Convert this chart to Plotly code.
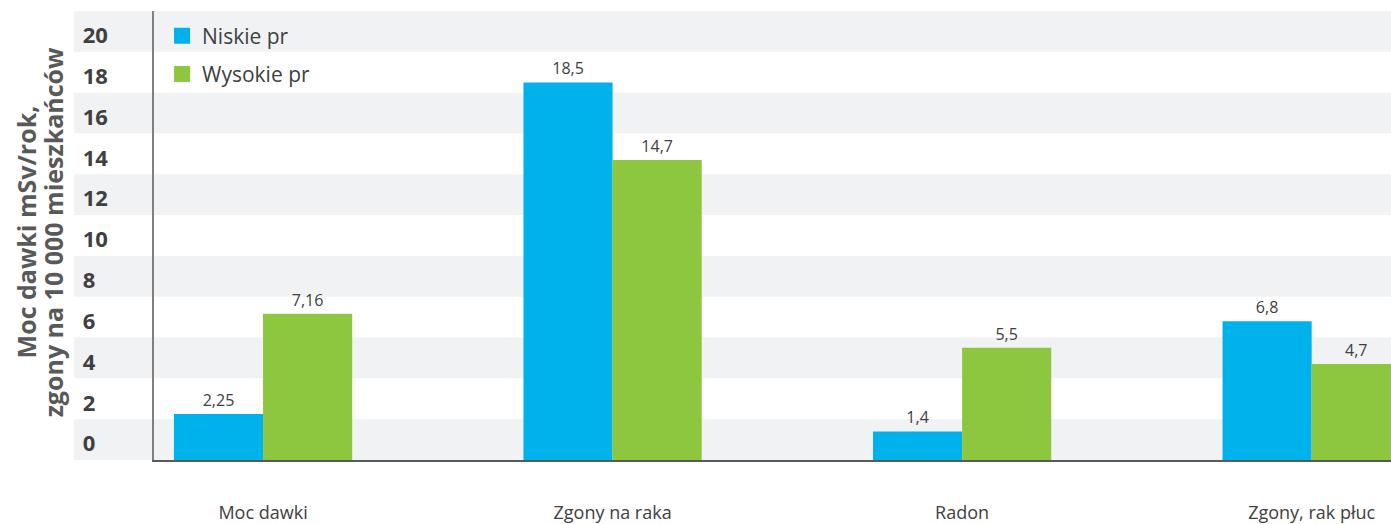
import plotly.graph_objects as go

categories = ["Moc dawki", "Zgony na raka", "Radon", "Zgony, rak płuc"]
niskie = [2.25, 18.5, 1.4, 6.8]
wysokie = [7.16, 14.7, 5.5, 4.7]
y_ticks = [0, 2, 4, 6, 8, 10, 12, 14, 16, 18, 20]
series_names = ["Niskie pr", "Wysokie pr"]
colors = ["#00B2EC", "#8DC63F"]
title_lines = ["Moc dawki mSv/rok,", "zgony na 10 000 mieszkańców"]

FONT = "Open Sans"
TXT = "#404040"

def fmt(v):
    return str(v).replace(".", ",")

fig = go.Figure()
for name, vals, col in zip(series_names, [niskie, wysokie], colors):
    fig.add_trace(go.Bar(
        x=categories, y=vals, name=name, marker=dict(color=col, line=dict(width=0)),
        text=[fmt(v) for v in vals], textposition="outside", cliponaxis=False,
        textfont=dict(family=FONT, size=16, color=TXT), showlegend=False,
        hoverinfo="skip",
    ))
    fig.add_trace(go.Scatter(
        x=[None], y=[None], mode="markers", name=name, legendgroup=name,
        marker=dict(symbol="square", size=16, color=col),
    ))

# alternating bands
for v in y_ticks:
    if (v // 2) % 2 == 0:
        fig.add_shape(type="rect", xref="paper", yref="y", x0=-0.0647, x1=1,
                      y0=v, y1=v + 2, fillcolor="#F1F2F4", line=dict(width=0),
                      layer="below")

for line, xp in zip(title_lines, [-0.1039, -0.0821]):
    fig.add_annotation(
        text=line, xref="paper", yref="paper", x=xp, y=0.508, textangle=-90,
        xanchor="center", yanchor="middle", showarrow=False,
        font=dict(family=FONT, size=25, color="#595959", weight="bold"),
    )

fig.update_layout(
    width=1391, height=524,
    margin=dict(l=154, r=0, t=11, b=64),
    plot_bgcolor="white", paper_bgcolor="white",
    barmode="group", bargap=0.49, bargroupgap=0,
    font=dict(family=FONT, color=TXT),
    legend=dict(x=0.0065, y=0.99, xanchor="left", yanchor="top",
                font=dict(family=FONT, size=21, color=TXT),
                bgcolor="rgba(0,0,0,0)", tracegroupgap=8),
    xaxis=dict(range=[-0.312, 3.227], showline=True, linecolor="#595959",
               linewidth=1.5, showgrid=False, ticks="", automargin=False,
               ticklabelstandoff=36,
               tickfont=dict(family=FONT, size=18, color=TXT)),
    yaxis=dict(range=[0, 22], showline=True, linecolor="#808080", linewidth=1.5,
               showgrid=False, zeroline=False, ticks="", automargin=False,
               tickvals=[v + 0.8 for v in y_ticks],
               ticktext=[str(v) if v >= 10 else str(v) + "\u2007" for v in y_ticks],
               ticklabelstandoff=40,
               tickfont=dict(family=FONT, size=22, color=TXT, weight="bold")),
)

fig.write_html("out.html")
